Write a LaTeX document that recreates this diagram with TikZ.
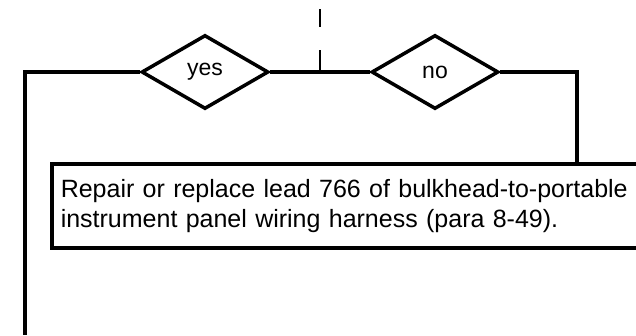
\documentclass[tikz,border=0pt]{standalone}
\usepackage{fontspec}
\setmainfont{Liberation Sans}
\usetikzlibrary{shapes.geometric}
\tikzset{
  decision/.style={draw, diamond, line width=3.5pt, inner sep=0pt,
    minimum width=127pt, minimum height=74pt, font=\fontsize{23}{25}\selectfont},
  actionbox/.style={draw, rectangle, line width=3.5pt, anchor=north west,
    text width=640pt, inner xsep=9pt, minimum height=84pt, align=left,
    font=\fontsize{25}{30}\selectfont},
  conn/.style={line width=3.5pt},
  tick/.style={line width=1.5pt}
}
\begin{document}
\begin{tikzpicture}[x=1pt,y=1pt]
\useasboundingbox (0,0) rectangle (636,-335);
\clip (0,0) rectangle (636,-335);
\node[decision] (yes) at (205,-72) {yes};
\node[decision] (no) at (435,-72) {no};
\node[actionbox] (box) at (50,-162) {Repair or replace lead 766 of bulkhead-to-portable\\instrument panel wiring harness (para 8-49).};
\coordinate (lc) at (25,-72);
\coordinate (lend) at (25,-335);
\coordinate (rc) at (577,-72);
\coordinate (rend) at (577,-162);
\coordinate (t1) at (320,-9);
\coordinate (t2) at (320,-27);
\coordinate (t3) at (320,-50);
\coordinate (t4) at (320,-72);
\draw[conn] (yes.west) -- (lc) -- (lend);
\draw[conn] (yes.east) -- (no.west);
\draw[conn] (no.east) -- (rc) -- (rend);
\draw[tick] (t1) -- (t2);
\draw[tick] (t3) -- (t4);
\end{tikzpicture}
\end{document}
